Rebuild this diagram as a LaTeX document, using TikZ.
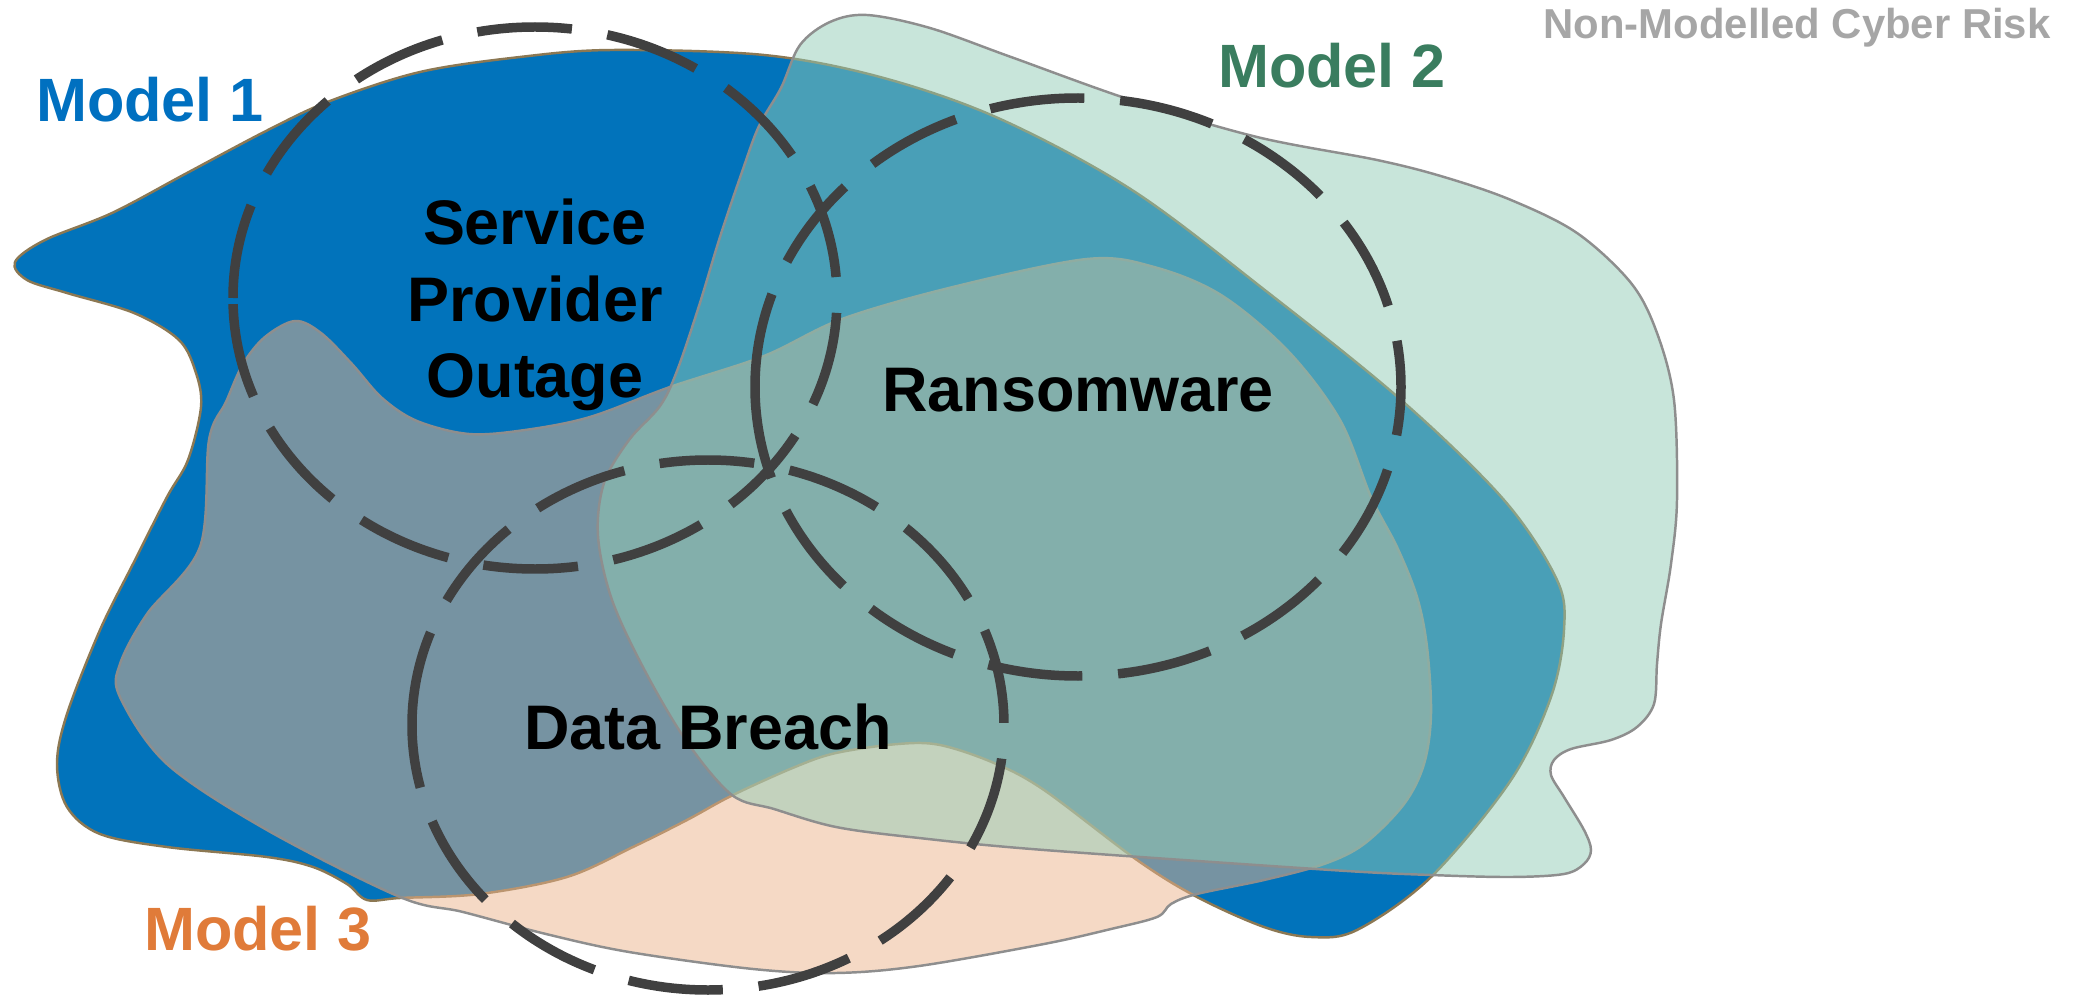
\documentclass[tikz,border=0pt]{standalone}
\usepackage{fontspec}
\setmainfont{Liberation Sans}
\definecolor{mOneBlue}{HTML}{0173BB}
\definecolor{mOneLine}{HTML}{8C7853}
\definecolor{mTwoFill}{HTML}{91CBB5}
\definecolor{mThreeFill}{HTML}{EBB38B}
\definecolor{blobLine}{HTML}{8E8E8E}
\definecolor{ringCol}{HTML}{404040}
\definecolor{tOne}{HTML}{0070C0}
\definecolor{tTwo}{HTML}{3A7D5F}
\definecolor{tThree}{HTML}{E07B39}
\definecolor{tGray}{HTML}{A6A6A6}
\begin{document}
\begin{tikzpicture}[x=0.01cm, y=-0.01cm,
  blobone/.style={fill=mOneBlue, draw=mOneLine, line width=0.7pt},
  blobthree/.style={fill=mThreeFill, fill opacity=0.5, draw=blobLine, line width=0.7pt},
  blobtwo/.style={fill=mTwoFill, fill opacity=0.5, draw=blobLine, line width=0.7pt},
  riskring/.style={draw=ringCol, line width=2.7pt, dash pattern=on 27pt off 10.2pt},
  lbl/.style={font=\bfseries\fontsize{17.9pt}{21.8pt}\selectfont, text=black, inner sep=0pt, align=center},
  mdl/.style={font=\bfseries\fontsize{17.4pt}{21pt}\selectfont, inner sep=0pt, anchor=base},
]
\useasboundingbox (0,0) rectangle (2087,997);

% Model 1 (blue)
\draw[blobone] plot[smooth cycle, tension=0.55] coordinates {
 (15,262) (45,240) (112,213) (187,173) (268,130) (330,101) (420,72) (520,57)
 (612,50) (764,55) (880,77) (998,118) (1132,190) (1266,291) (1400,399)
 (1504,500) (1557,580) (1564,630) (1551,697) (1511,780) (1431,877) (1357,930)
 (1311,937) (1264,927) (1197,897) (1137,860) (1044,790) (994,763) (940,745)
 (898,744) (836,753) (795,767) (733,795) (687,820) (633,847) (567,877)
 (480,894) (400,898) (367,900) (347,884) (313,867) (267,857) (167,847)
 (100,834) (67,807) (57,764) (67,714) (100,630) (133,564) (167,497) (188,460)
 (201,407) (196,373) (179,340) (134,313) (67,293) (27,280)};

% Model 3 (peach)
\draw[blobthree] plot[smooth cycle, tension=0.55] coordinates {
 (295,321) (321,333) (352,364) (382,398) (417,421) (469,434) (525,430)
 (590,417) (670,387) (764,356) (842,319) (953,287) (1087,259) (1154,267)
 (1221,295) (1288,351) (1340,420) (1371,497) (1397,547) (1417,597) (1427,647)
 (1431,714) (1424,764) (1404,804) (1364,844) (1324,864) (1264,880) (1197,894)
 (1171,904) (1157,917) (1111,929) (1044,944) (919,966) (836,973) (753,969)
 (629,952) (546,934) (463,912) (400,897) (267,830) (167,764) (120,697)
 (120,664) (147,614) (200,547) (209,440) (226,402) (243,364) (265,337)};

% Model 2 (green)
\draw[blobtwo] plot[smooth cycle, tension=0.55] coordinates {
 (800,45) (830,22) (867,15) (930,28) (1011,57) (1131,100) (1257,137)
 (1377,160) (1444,177) (1511,200) (1577,233) (1631,283) (1657,333) (1674,400)
 (1677,500) (1671,564) (1661,624) (1657,664) (1654,704) (1637,727) (1611,740)
 (1571,749) (1554,760) (1551,775) (1564,797) (1584,830) (1591,850) (1584,864)
 (1564,874) (1511,877) (1431,875) (1331,870) (1044,850) (919,838) (836,827)
 (774,809) (732,795) (687,742) (645,671) (612,600) (598,536) (604,483)
 (629,440) (660,406) (677,371) (699,306) (720,237) (742,172) (759,126)
 (781,88)};

% dashed risk rings
\coordinate (ringA) at (535,298);
\coordinate (ringB) at (1078,387);
\coordinate (ringC) at (708,725);
\draw[riskring] (233,298) arc[start angle=180, delta angle=360, x radius=302, y radius=271];
\draw[riskring] (755,387) arc[start angle=180, delta angle=360, x radius=323, y radius=289];
\draw[riskring] (412,725) arc[start angle=180, delta angle=360, x radius=296, y radius=265];

% labels
\node[lbl] (spo) at (535,305) {Service\\Provider\\Outage};
\node[lbl, anchor=base] (ran) at (1078,411) {Ransomware};
\node[lbl, anchor=base] (dat) at (708,749) {Data Breach};

\node[mdl, text=tOne] (mone) at (150,122) {Model 1};
\node[mdl, text=tTwo] (mtwo) at (1332,88) {Model 2};
\node[mdl, text=tThree] (mthree) at (258,950) {Model 3};
\node[font=\bfseries\fontsize{11.9pt}{14pt}\selectfont, text=tGray, inner sep=0pt, anchor=base] (nonm) at (1797,39) {Non-Modelled Cyber Risk};
\end{tikzpicture}
\end{document}
